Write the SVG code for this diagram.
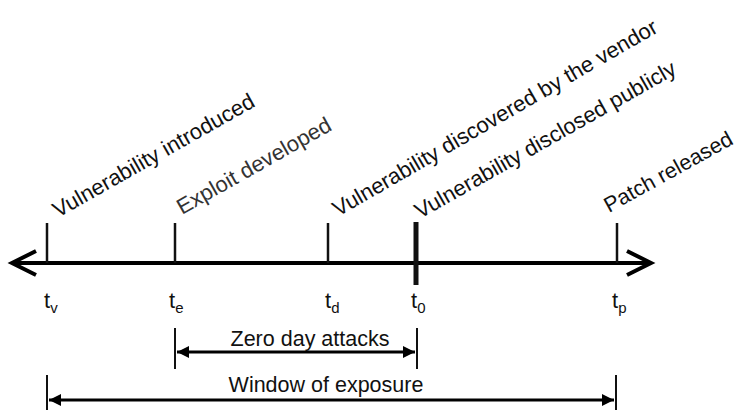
<svg xmlns="http://www.w3.org/2000/svg" width="739" height="410" viewBox="0 0 739 410">
<style>
.lbl{font-family:"Liberation Sans",Arial,sans-serif;font-size:22px;fill:#111}
.t{font-family:"Liberation Sans",Arial,sans-serif;font-size:22px;fill:#111}
.sub{font-size:15px}
.dim{font-family:"Liberation Sans",Arial,sans-serif;font-size:21.5px;fill:#111;text-anchor:middle}
.tick{stroke:#111;stroke-width:2.5;fill:none}
.ax{stroke:#000;stroke-width:4;fill:none}
.dl{stroke:#000;stroke-width:3;fill:none}
.dt{stroke:#111;stroke-width:2;fill:none}
</style>
<defs>
<marker id="ah" viewBox="0 0 10 10" refX="10" refY="5" markerWidth="4" markerHeight="4" orient="auto-start-reverse" markerUnits="strokeWidth">
<path d="M0,0 L10,5 L0,10 z" fill="#000"/>
</marker>
</defs>
<g id="connectors">
<line class="ax" x1="12" y1="263" x2="650" y2="263"/>
<polyline class="ax" points="36,251 12,263 36,275"/>
<polyline class="ax" points="627,251 651,263 627,275"/>
<line class="dl" x1="177" y1="352" x2="415" y2="352" marker-start="url(#ah)" marker-end="url(#ah)"/>
<line class="dl" x1="49" y1="400" x2="614" y2="400" marker-start="url(#ah)" marker-end="url(#ah)"/>
<line class="dt" x1="175" y1="328" x2="175" y2="369"/>
<line class="dt" x1="417" y1="328" x2="417" y2="369"/>
<line class="dt" x1="47" y1="375" x2="47" y2="410"/>
<line class="dt" x1="616" y1="375" x2="616" y2="410"/>
</g>
<g id="tv">
<line class="tick" x1="47" y1="223" x2="47" y2="263"/>
<text class="t" x="44" y="308">t<tspan class="sub" dy="5">v</tspan></text>
<text class="lbl" transform="translate(58,218) rotate(-29.5)">Vulnerability introduced</text>
</g>
<g id="te">
<line class="tick" x1="175" y1="223" x2="175" y2="263"/>
<text class="t" x="169" y="308">t<tspan class="sub" dy="5">e</tspan></text>
<text class="lbl" style="fill:#333" transform="translate(182,215) rotate(-29.5)">Exploit developed</text>
</g>
<g id="td">
<line class="tick" x1="328" y1="223" x2="328" y2="263"/>
<text class="t" x="325" y="308">t<tspan class="sub" dy="5">d</tspan></text>
<text class="lbl" transform="translate(338,217) rotate(-30)">Vulnerability discovered by the vendor</text>
</g>
<g id="t0">
<line class="tick" style="stroke-width:5" x1="416" y1="222" x2="416" y2="285"/>
<text class="t" x="411" y="308">t<tspan class="sub" dy="5">0</tspan></text>
<text class="lbl" transform="translate(420,219) rotate(-29.5)">Vulnerability disclosed publicly</text>
</g>
<g id="tp">
<line class="tick" x1="617" y1="223" x2="617" y2="263"/>
<text class="t" x="612" y="308">t<tspan class="sub" dy="5">p</tspan></text>
<text class="lbl" style="font-size:21.5px" transform="translate(609,213) rotate(-29)">Patch released</text>
</g>
<g id="zero-day">
<text class="dim" x="310" y="346">Zero day attacks</text>
</g>
<g id="window">
<text class="dim" x="326" y="392">Window of exposure</text>
</g>
</svg>
